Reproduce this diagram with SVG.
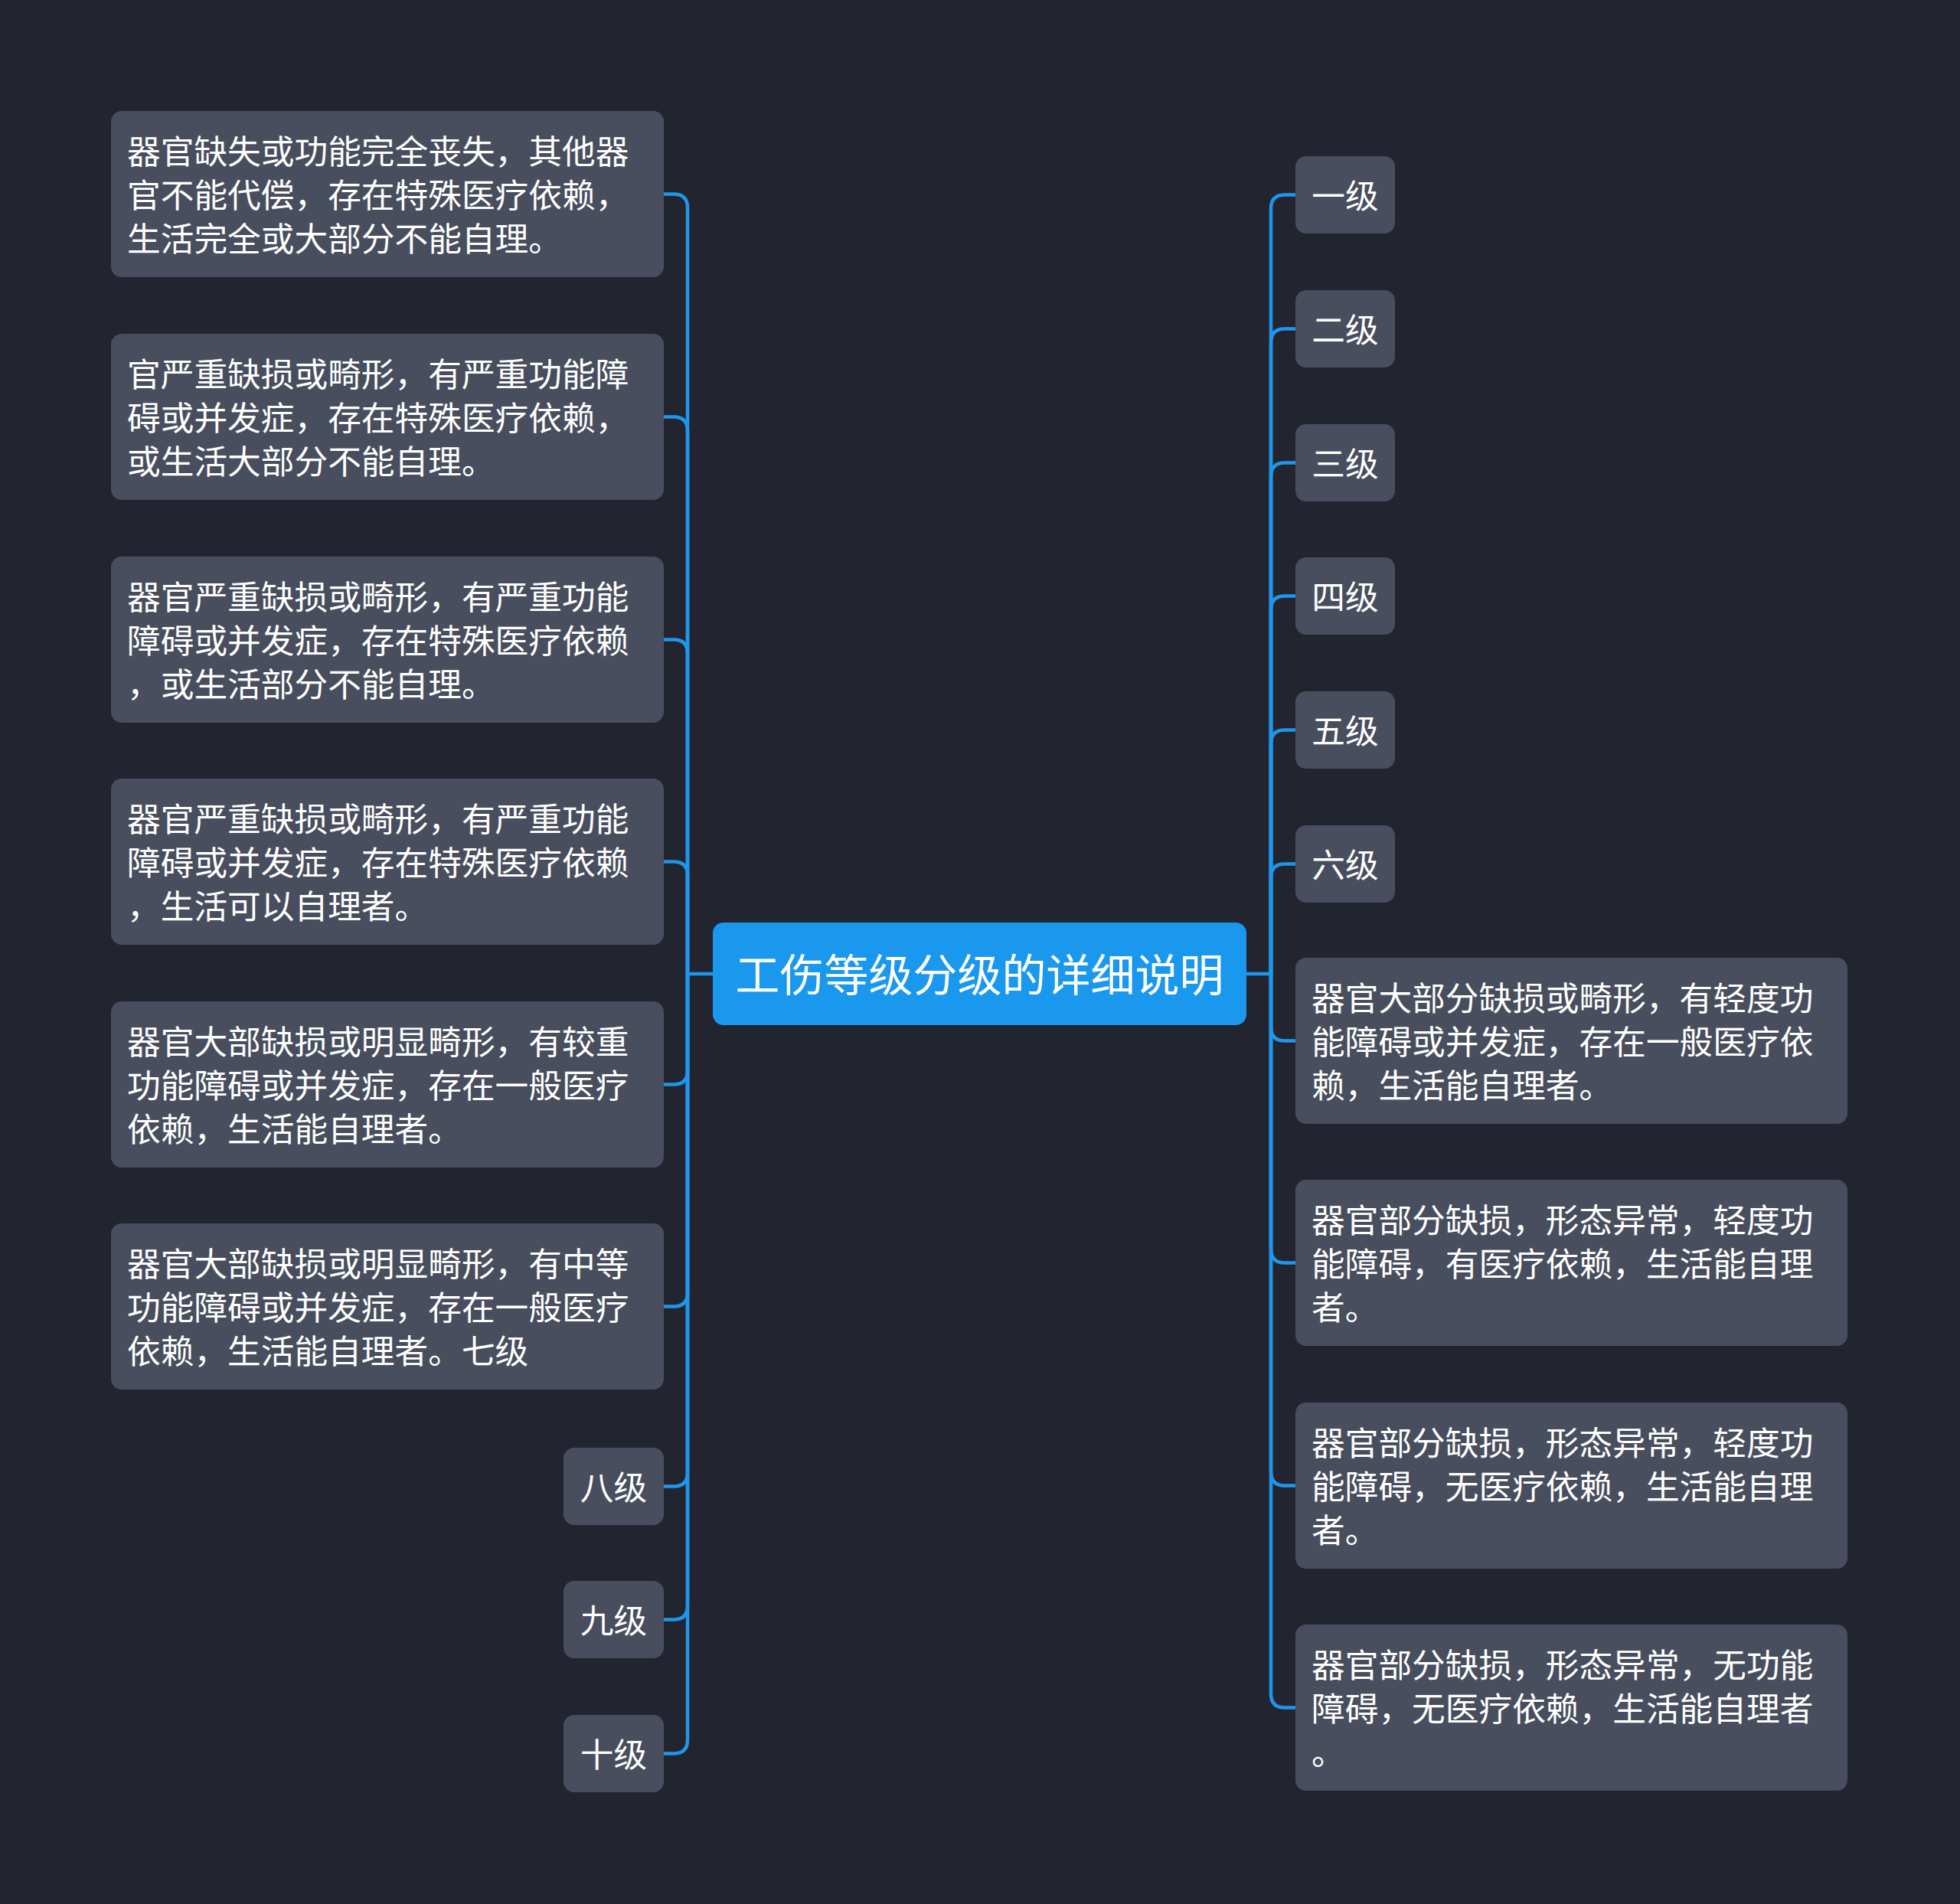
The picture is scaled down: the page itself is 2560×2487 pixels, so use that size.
<svg xmlns="http://www.w3.org/2000/svg" width="2560" height="2487" viewBox="0 0 2560 2487">
<defs>
<style>
.bg{fill:#22252f}
.box{fill:#484e5d}
.root{fill:#1a98ee}
.t{font-family:"Noto Sans CJK SC","Noto Sans",sans-serif;font-size:43.7px;fill:#ffffff;dominant-baseline:central}
.c{text-anchor:middle}
.rt{font-family:"Noto Sans CJK SC","Noto Sans",sans-serif;font-size:58px;fill:#ffffff;dominant-baseline:central;text-anchor:middle}
.ln{fill:none;stroke:#1f96ec;stroke-width:4.5;stroke-linecap:round}
</style>
</defs>
<rect class="bg" x="0" y="0" width="2560" height="2487"/>
<g id="connectors">
<path class="ln" d="M931,1272 H898"/>
<path class="ln" d="M898,1272 V271.5 Q898,253.5 880,253.5 H867"/>
<path class="ln" d="M898,1272 V562.5 Q898,544.5 880,544.5 H867"/>
<path class="ln" d="M898,1272 V853.5 Q898,835.5 880,835.5 H867"/>
<path class="ln" d="M898,1272 V1143.5 Q898,1125.5 880,1125.5 H867"/>
<path class="ln" d="M898,1272 V1398.5 Q898,1416.5 880,1416.5 H867"/>
<path class="ln" d="M898,1272 V1688.5 Q898,1706.5 880,1706.5 H867"/>
<path class="ln" d="M898,1272 V1923.5 Q898,1941.5 880,1941.5 H867"/>
<path class="ln" d="M898,1272 V2097.5 Q898,2115.5 880,2115.5 H867"/>
<path class="ln" d="M898,1272 V2272.5 Q898,2290.5 880,2290.5 H867"/>
<path class="ln" d="M1628,1272 H1660"/>
<path class="ln" d="M1660,1272 V272.5 Q1660,254.5 1678,254.5 H1692"/>
<path class="ln" d="M1660,1272 V447.5 Q1660,429.5 1678,429.5 H1692"/>
<path class="ln" d="M1660,1272 V622.5 Q1660,604.5 1678,604.5 H1692"/>
<path class="ln" d="M1660,1272 V796.5 Q1660,778.5 1678,778.5 H1692"/>
<path class="ln" d="M1660,1272 V971.5 Q1660,953.5 1678,953.5 H1692"/>
<path class="ln" d="M1660,1272 V1146.5 Q1660,1128.5 1678,1128.5 H1692"/>
<path class="ln" d="M1660,1272 V1341.5 Q1660,1359.5 1678,1359.5 H1692"/>
<path class="ln" d="M1660,1272 V1631.5 Q1660,1649.5 1678,1649.5 H1692"/>
<path class="ln" d="M1660,1272 V1922.5 Q1660,1940.5 1678,1940.5 H1692"/>
<path class="ln" d="M1660,1272 V2212.5 Q1660,2230.5 1678,2230.5 H1692"/>
</g>
<g id="root">
<rect class="root" x="931" y="1205" width="697" height="134" rx="14"/>
<text class="rt" x="1279.5" y="1270">工伤等级分级的详细说明</text>
</g>
<g id="L1">
<rect class="box" x="145" y="145" width="722" height="217" rx="14"/>
<text class="t"><tspan x="166" y="194.5">器官缺失或功能完全丧失，其他器</tspan><tspan x="166" y="251.5">官不能代偿，存在特殊医疗依赖，</tspan><tspan x="166" y="308.5">生活完全或大部分不能自理。</tspan></text>
</g>
<g id="L2">
<rect class="box" x="145" y="436" width="722" height="217" rx="14"/>
<text class="t"><tspan x="166" y="485.5">官严重缺损或畸形，有严重功能障</tspan><tspan x="166" y="542.5">碍或并发症，存在特殊医疗依赖，</tspan><tspan x="166" y="599.5">或生活大部分不能自理。</tspan></text>
</g>
<g id="L3">
<rect class="box" x="145" y="727" width="722" height="217" rx="14"/>
<text class="t"><tspan x="166" y="776.5">器官严重缺损或畸形，有严重功能</tspan><tspan x="166" y="833.5">障碍或并发症，存在特殊医疗依赖</tspan><tspan x="166" y="890.5">，或生活部分不能自理。</tspan></text>
</g>
<g id="L4">
<rect class="box" x="145" y="1017" width="722" height="217" rx="14"/>
<text class="t"><tspan x="166" y="1066.5">器官严重缺损或畸形，有严重功能</tspan><tspan x="166" y="1123.5">障碍或并发症，存在特殊医疗依赖</tspan><tspan x="166" y="1180.5">，生活可以自理者。</tspan></text>
</g>
<g id="L5">
<rect class="box" x="145" y="1308" width="722" height="217" rx="14"/>
<text class="t"><tspan x="166" y="1357.5">器官大部缺损或明显畸形，有较重</tspan><tspan x="166" y="1414.5">功能障碍或并发症，存在一般医疗</tspan><tspan x="166" y="1471.5">依赖，生活能自理者。</tspan></text>
</g>
<g id="L6">
<rect class="box" x="145" y="1598" width="722" height="217" rx="14"/>
<text class="t"><tspan x="166" y="1647.5">器官大部缺损或明显畸形，有中等</tspan><tspan x="166" y="1704.5">功能障碍或并发症，存在一般医疗</tspan><tspan x="166" y="1761.5">依赖，生活能自理者。七级</tspan></text>
</g>
<g id="L8">
<rect class="box" x="736" y="1891" width="131" height="101" rx="14"/>
<text class="t c" x="801.5" y="1939.5">八级</text>
</g>
<g id="L9">
<rect class="box" x="736" y="2065" width="131" height="101" rx="14"/>
<text class="t c" x="801.5" y="2113.5">九级</text>
</g>
<g id="L10">
<rect class="box" x="736" y="2240" width="131" height="101" rx="14"/>
<text class="t c" x="801.5" y="2288.5">十级</text>
</g>
<g id="R1">
<rect class="box" x="1692" y="204" width="130" height="101" rx="14"/>
<text class="t c" x="1757" y="252.5">一级</text>
</g>
<g id="R2">
<rect class="box" x="1692" y="379" width="130" height="101" rx="14"/>
<text class="t c" x="1757" y="427.5">二级</text>
</g>
<g id="R3">
<rect class="box" x="1692" y="554" width="130" height="101" rx="14"/>
<text class="t c" x="1757" y="602.5">三级</text>
</g>
<g id="R4">
<rect class="box" x="1692" y="728" width="130" height="101" rx="14"/>
<text class="t c" x="1757" y="776.5">四级</text>
</g>
<g id="R5">
<rect class="box" x="1692" y="903" width="130" height="101" rx="14"/>
<text class="t c" x="1757" y="951.5">五级</text>
</g>
<g id="R6">
<rect class="box" x="1692" y="1078" width="130" height="101" rx="14"/>
<text class="t c" x="1757" y="1126.5">六级</text>
</g>
<g id="R7">
<rect class="box" x="1692" y="1251" width="721" height="217" rx="14"/>
<text class="t"><tspan x="1713" y="1300.5">器官大部分缺损或畸形，有轻度功</tspan><tspan x="1713" y="1357.5">能障碍或并发症，存在一般医疗依</tspan><tspan x="1713" y="1414.5">赖，生活能自理者。</tspan></text>
</g>
<g id="R8">
<rect class="box" x="1692" y="1541" width="721" height="217" rx="14"/>
<text class="t"><tspan x="1713" y="1590.5">器官部分缺损，形态异常，轻度功</tspan><tspan x="1713" y="1647.5">能障碍，有医疗依赖，生活能自理</tspan><tspan x="1713" y="1704.5">者。</tspan></text>
</g>
<g id="R9">
<rect class="box" x="1692" y="1832" width="721" height="217" rx="14"/>
<text class="t"><tspan x="1713" y="1881.5">器官部分缺损，形态异常，轻度功</tspan><tspan x="1713" y="1938.5">能障碍，无医疗依赖，生活能自理</tspan><tspan x="1713" y="1995.5">者。</tspan></text>
</g>
<g id="R10">
<rect class="box" x="1692" y="2122" width="721" height="217" rx="14"/>
<text class="t"><tspan x="1713" y="2171.5">器官部分缺损，形态异常，无功能</tspan><tspan x="1713" y="2228.5">障碍，无医疗依赖，生活能自理者</tspan><tspan x="1713" y="2285.5">。</tspan></text>
</g>
</svg>
